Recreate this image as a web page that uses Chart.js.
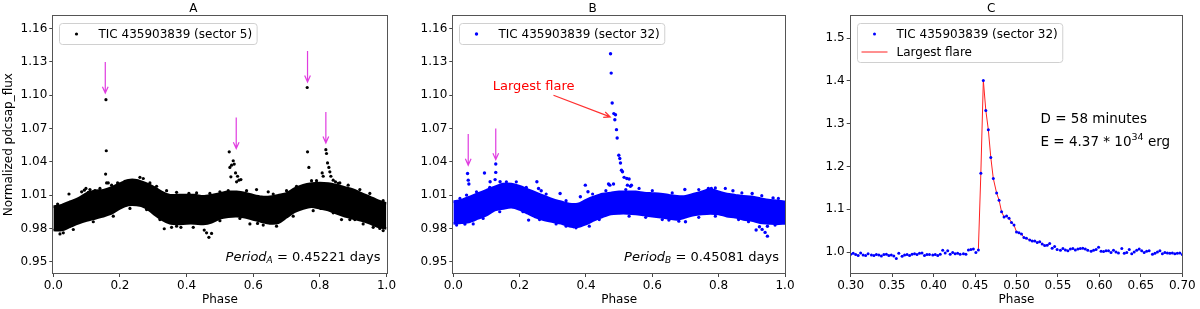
<!DOCTYPE html>
<html>
<head>
<meta charset="utf-8">
<script src="https://cdn.jsdelivr.net/npm/chart.js@4.4.0/dist/chart.umd.min.js"></script>
<style>
html, body { margin: 0; padding: 0; background: #fff; }
#wrap { position: relative; width: 1200px; height: 309px; }
#wrap canvas { position: absolute; top: 0; }
</style>
</head>
<body>
<div id="wrap">
  <canvas id="cA" width="400" height="309" style="left:0px"></canvas>
  <canvas id="cB" width="400" height="309" style="left:400px"></canvas>
  <canvas id="cC" width="400" height="309" style="left:800px"></canvas>
</div>
<script>
// ---- data ----
var xTicksAB = [0, 0.2, 0.4, 0.6, 0.8, 1.0];
var yTicksAB = [0.95, 0.98, 1.01, 1.04, 1.07, 1.10, 1.13, 1.16];
var xTicksC = [0.30, 0.35, 0.40, 0.45, 0.50, 0.55, 0.60, 0.65, 0.70];
var yTicksC = [1.0, 1.1, 1.2, 1.3, 1.4, 1.5];

// upper / lower edge of the dense point cloud, sampled every 0.025 in phase
var envPhase = [0, 0.025, 0.05, 0.075, 0.1, 0.125, 0.15, 0.175, 0.2, 0.225, 0.25, 0.275, 0.3, 0.325, 0.35,
  0.375, 0.4, 0.425, 0.45, 0.475, 0.5, 0.525, 0.55, 0.575, 0.6, 0.625, 0.65, 0.675, 0.7, 0.725, 0.75,
  0.775, 0.8, 0.825, 0.85, 0.875, 0.9, 0.925, 0.95, 0.975, 1.0];
var bandTopA = [0.9995, 1.001, 1.004, 1.007, 1.0115, 1.014, 1.0145, 1.017, 1.0205, 1.0235, 1.0235, 1.021,
  1.0175, 1.013, 1.01, 1.01, 1.01, 1.01, 1.009, 1.01, 1.0115, 1.013, 1.013, 1.012, 1.01, 1.0085, 1.0085,
  1.01, 1.0115, 1.016, 1.019, 1.0205, 1.021, 1.0205, 1.019, 1.017, 1.015, 1.0115, 1.0085, 1.005, 1.0025];
var bandLowA = [0.9785, 0.9785, 0.9815, 0.9845, 0.987, 0.989, 0.991, 0.9935, 0.998, 1.001, 1.001, 0.999,
  0.9935, 0.988, 0.9845, 0.984, 0.9845, 0.9845, 0.984, 0.9855, 0.989, 0.9905, 0.991, 0.99, 0.988, 0.986,
  0.9845, 0.985, 0.99, 0.995, 0.998, 0.9995, 0.998, 0.9965, 0.9935, 0.991, 0.989, 0.987, 0.9845, 0.9815, 0.98];
var bandTopB = [1.004, 1.0055, 1.0085, 1.0115, 1.0145, 1.0175, 1.02, 1.02, 1.018, 1.015, 1.012, 1.009,
  1.006, 1.004, 1.002, 1.002, 1.0055, 1.0085, 1.011, 1.012, 1.013, 1.013, 1.013, 1.012, 1.0115, 1.011,
  1.01, 1.009, 1.009, 1.011, 1.013, 1.015, 1.013, 1.011, 1.01, 1.009, 1.0085, 1.007, 1.0055, 1.005, 1.004];
var bandLowB = [0.9845, 0.985, 0.986, 0.989, 0.992, 0.9965, 0.998, 0.999, 0.997, 0.9935, 0.99, 0.9875,
  0.986, 0.9845, 0.982, 0.9815, 0.984, 0.9875, 0.9905, 0.993, 0.9935, 0.9935, 0.993, 0.992, 0.991, 0.99,
  0.989, 0.988, 0.99, 0.992, 0.993, 0.9935, 0.993, 0.991, 0.99, 0.988, 0.987, 0.985, 0.9845, 0.984, 0.9845];

// single points standing out of the cloud: [phase, flux]
var dotsA = [[0.158, 1.096], [0.159, 1.050], [0.157, 1.029], [0.160, 1.021],
  [0.528, 1.049], [0.540, 1.041], [0.543, 1.038], [0.535, 1.037], [0.530, 1.035], [0.533, 1.0265],
  [0.547, 1.030], [0.553, 1.027], [0.557, 1.0235], [0.563, 1.024], [0.550, 1.022], [0.525, 1.014],
  [0.762, 1.107], [0.763, 1.049], [0.767, 1.035], [0.775, 1.023],
  [0.818, 1.051], [0.820, 1.0475], [0.823, 1.039], [0.827, 1.035], [0.830, 1.031], [0.833, 1.027],
  [0.810, 1.027], [0.807, 1.030], [0.840, 1.0235], [0.847, 1.022], [0.855, 1.0205], [0.885, 1.019],
  [0.047, 1.011], [0.013, 1.002], [0.093, 1.0145], [0.110, 1.015], [0.125, 1.014], [0.165, 1.021],
  [0.193, 1.021], [0.290, 1.021], [0.407, 1.0115], [0.610, 1.015], [0.645, 1.013],
  [0.333, 0.9797], [0.355, 0.981], [0.383, 0.981], [0.453, 0.9785], [0.467, 0.972], [0.460, 0.976],
  [0.475, 0.9755], [0.020, 0.975], [0.865, 0.988], [0.905, 0.988], [0.613, 0.9845], [0.590, 0.984], [0.980, 0.980]];
// ragged rim of the cloud in panel A
var rimA = [[0.085, 1.013], [0.098, 1.016], [0.105, 1.0125], [0.14, 1.016], [0.175, 1.019], [0.215, 1.0225],
  [0.26, 1.026], [0.27, 1.025], [0.31, 1.018], [0.34, 1.014], [0.37, 1.0125], [0.43, 1.012], [0.47, 1.0115],
  [0.5, 1.013], [0.58, 1.014], [0.66, 1.011], [0.7, 1.014], [0.73, 1.018], [0.79, 1.023], [0.86, 1.021],
  [0.92, 1.015], [0.95, 1.0115], [0.99, 1.005],
  [0.03, 0.976], [0.06, 0.979], [0.12, 0.986], [0.18, 0.991], [0.23, 0.998], [0.28, 0.997], [0.32, 0.988],
  [0.37, 0.982], [0.42, 0.981], [0.5, 0.987], [0.56, 0.989], [0.63, 0.983], [0.67, 0.982], [0.72, 0.991],
  [0.78, 0.996], [0.84, 0.994], [0.89, 0.988], [0.93, 0.984], [0.96, 0.981], [0.99, 0.978]];
var dotsB = [[0.474, 1.1375], [0.476, 1.120], [0.479, 1.093], [0.484, 1.0835], [0.489, 1.0825],
  [0.487, 1.078], [0.492, 1.069], [0.494, 1.0615], [0.499, 1.046], [0.502, 1.043], [0.504, 1.039],
  [0.507, 1.0325], [0.510, 1.031], [0.515, 1.026], [0.523, 1.025], [0.530, 1.0245], [0.525, 1.019],
  [0.534, 1.018], [0.472, 1.019], [0.468, 1.020], [0.483, 1.020], [0.537, 1.019],
  [0.043, 1.0295], [0.045, 1.0235], [0.047, 1.020], [0.040, 1.010], [0.094, 1.030], [0.128, 1.038],
  [0.128, 1.0305], [0.126, 1.024], [0.111, 1.022], [0.141, 1.022],
  [0.252, 1.022], [0.257, 1.016], [0.265, 1.014], [0.322, 1.0115], [0.398, 1.019], [0.406, 1.013],
  [0.383, 1.0085], [0.698, 1.015], [0.769, 1.016], [0.778, 1.016], [0.843, 1.014], [0.901, 1.0115], [0.964, 1.0075],
  [0.227, 0.9875], [0.363, 0.9815], [0.035, 0.984], [0.650, 0.9875], [0.700, 0.986], [0.931, 0.9791],
  [0.940, 0.9764], [0.947, 0.973], [0.923, 0.9815], [0.913, 0.9785], [0.947, 0.982]];
// ragged rim of the cloud in panel B
var rimB = [[0.02, 1.007], [0.07, 1.013], [0.11, 1.017], [0.16, 1.022], [0.19, 1.022], [0.22, 1.017],
  [0.28, 1.011], [0.34, 1.005], [0.42, 1.011], [0.46, 1.014], [0.52, 1.015], [0.56, 1.016], [0.6, 1.014],
  [0.66, 1.012], [0.74, 1.015], [0.79, 1.0165], [0.82, 1.016], [0.87, 1.012], [0.93, 1.0095], [0.98, 1.007],
  [0.01, 0.983], [0.06, 0.984], [0.09, 0.989], [0.14, 0.995], [0.21, 0.995], [0.26, 0.988], [0.31, 0.984],
  [0.34, 0.982], [0.37, 0.9805], [0.41, 0.982], [0.44, 0.988], [0.53, 0.991], [0.58, 0.99], [0.63, 0.988],
  [0.68, 0.9865], [0.74, 0.99], [0.79, 0.991], [0.86, 0.988], [0.89, 0.986], [0.97, 0.983]];

// panel C: the largest flare, phase and flux
var cPhaseLeft = [0.300, 0.303, 0.306, 0.309, 0.312, 0.315, 0.318, 0.321, 0.325, 0.328, 0.331, 0.334, 0.337,
  0.340, 0.343, 0.346, 0.349, 0.352, 0.355, 0.358, 0.362, 0.365, 0.368, 0.371, 0.374, 0.377, 0.380, 0.383,
  0.386, 0.389, 0.392, 0.395, 0.399, 0.402, 0.405, 0.408, 0.411, 0.414, 0.417, 0.420, 0.423, 0.426, 0.429,
  0.432, 0.436, 0.439, 0.442, 0.445, 0.448, 0.451];
var cFluxLeft = [0.995, 0.997, 0.994, 0.992, 0.998, 0.993, 0.992, 0.996, 0.993, 0.992, 0.994, 0.993, 0.991,
  0.994, 0.995, 0.992, 0.993, 0.991, 0.985, 0.997, 0.990, 0.993, 0.994, 0.992, 0.995, 0.996, 0.994, 0.997,
  0.998, 0.992, 0.994, 0.994, 0.993, 0.994, 0.992, 0.995, 1.004, 0.998, 1.003, 0.995, 0.999, 0.996, 0.997,
  0.995, 0.996, 0.995, 1.005, 1.006, 1.007, 0.999];
var flarePhase = [0.454, 0.457, 0.460, 0.463, 0.466, 0.469, 0.472, 0.476, 0.479, 0.482, 0.485, 0.488, 0.491,
  0.494, 0.497, 0.500, 0.503, 0.506, 0.509, 0.512, 0.516, 0.519, 0.522, 0.525, 0.528, 0.531, 0.534, 0.537, 0.540];
var flareFlux = [1.005, 1.184, 1.401, 1.331, 1.286, 1.221, 1.172, 1.138, 1.121, 1.094, 1.082, 1.084, 1.079,
  1.069, 1.063, 1.047, 1.045, 1.042, 1.034, 1.032, 1.028, 1.026, 1.0257, 1.022, 1.024, 1.019, 1.015, 1.016, 1.020];
var cPhaseRight = [0.543, 0.546, 0.549, 0.553, 0.556, 0.559, 0.562, 0.565, 0.568, 0.571, 0.574, 0.577, 0.580,
  0.583, 0.586, 0.590, 0.593, 0.596, 0.599, 0.602, 0.605, 0.608, 0.611, 0.614, 0.617, 0.620, 0.623, 0.627,
  0.630, 0.633, 0.636, 0.639, 0.642, 0.645, 0.648, 0.651, 0.654, 0.657, 0.660, 0.664, 0.667, 0.670, 0.673,
  0.676, 0.679, 0.682, 0.685, 0.688, 0.691, 0.694, 0.697, 0.700];
var cFluxRight = [1.009, 1.013, 1.006, 1.004, 1.008, 1.005, 1.003, 1.007, 1.008, 1.005, 1.007, 1.008, 1.009,
  1.007, 1.004, 1.002, 1.004, 1.006, 1.011, 1.002, 1.001, 1.003, 1.003, 0.999, 1.004, 1.000, 0.998, 1.008,
  0.997, 0.999, 1.006, 0.996, 1.000, 1.004, 1.007, 1.003, 0.999, 1.002, 1.003, 0.995, 0.997, 1.000, 1.003,
  0.996, 0.999, 0.998, 0.997, 0.998, 0.996, 0.997, 0.998, 0.994];

// ---- drawing ----
var FONT = "'DejaVu Sans', 'Liberation Sans', sans-serif";
var MAGENTA = '#e03ce0';

function pts(xs, ys) {
  return xs.map(function (x, i) { return { x: x, y: ys[i] }; });
}
function pairs(list) {
  return list.map(function (p) { return { x: p[0], y: p[1] }; });
}
function fontStr(r) {
  return (r.italic ? 'italic ' : '') + r.size + 'px ' + FONT;
}

var panelPlugin = {
  id: 'panel',
  afterDatasetsDraw: function (chart, args, opts) {
    var ctx = chart.ctx, a = chart.chartArea, xs = chart.scales.x, ys = chart.scales.y;
    ctx.save();

    (opts.arrows || []).forEach(function (ar) {
      var x1 = xs.getPixelForValue(ar.from[0]), y1 = ys.getPixelForValue(ar.from[1]);
      var x2 = xs.getPixelForValue(ar.to[0]), y2 = ys.getPixelForValue(ar.to[1]);
      var ang = Math.atan2(y2 - y1, x2 - x1), hl = 7, hw = 0.42;
      ctx.strokeStyle = ar.color;
      ctx.lineWidth = 1.2;
      ctx.beginPath();
      ctx.moveTo(x1, y1);
      ctx.lineTo(x2, y2);
      ctx.moveTo(x2 - hl * Math.cos(ang - hw), y2 - hl * Math.sin(ang - hw));
      ctx.lineTo(x2, y2);
      ctx.lineTo(x2 - hl * Math.cos(ang + hw), y2 - hl * Math.sin(ang + hw));
      ctx.stroke();
    });

    (opts.notes || []).forEach(function (n) {
      var w = 0;
      n.runs.forEach(function (r) { ctx.font = fontStr(r); r.w = ctx.measureText(r.text).width; w += r.w; });
      var x = xs.getPixelForValue(n.at[0]), y = ys.getPixelForValue(n.at[1]);
      if (n.align === 'right') x -= w;
      else if (n.align === 'center') x -= w / 2;
      ctx.textBaseline = 'middle';
      ctx.textAlign = 'left';
      ctx.fillStyle = n.color || '#000';
      n.runs.forEach(function (r) {
        ctx.font = fontStr(r);
        ctx.fillText(r.text, x, y + (r.dy || 0));
        x += r.w;
      });
    });

    // axes box
    ctx.strokeStyle = '#555';
    ctx.lineWidth = 1;
    ctx.strokeRect(Math.round(a.left) - 0.5, Math.round(a.top) - 0.5,
      Math.round(a.right) - Math.round(a.left) + 1, Math.round(a.bottom) - Math.round(a.top) + 1);

    // legend box in the upper left corner
    var items = chart.data.datasets.filter(function (d) { return d.legendKind; });
    if (items.length) {
      ctx.font = '12px ' + FONT;
      var tw = 0;
      items.forEach(function (d) { tw = Math.max(tw, ctx.measureText(d.label).width); });
      var bx = Math.round(a.left) + 6.5, by = Math.round(a.top) + 7.5;
      var bw = 39 + tw + 5, bh = 21 + 18 * (items.length - 1);
      ctx.beginPath();
      ctx.roundRect(bx, by, bw, bh, 3);
      ctx.fillStyle = 'rgba(255,255,255,0.8)';
      ctx.fill();
      ctx.strokeStyle = '#d0d0d0';
      ctx.stroke();
      items.forEach(function (d, i) {
        var cy = by + 10.5 + 18 * i;
        if (d.legendKind === 'dot') {
          ctx.fillStyle = d.backgroundColor;
          ctx.beginPath();
          ctx.arc(bx + 17, cy, d.pointRadius, 0, Math.PI * 2);
          ctx.fill();
        } else {
          ctx.strokeStyle = d.borderColor;
          ctx.lineWidth = d.borderWidth;
          ctx.beginPath();
          ctx.moveTo(bx + 4, cy);
          ctx.lineTo(bx + 30, cy);
          ctx.stroke();
        }
        ctx.fillStyle = '#000';
        ctx.textAlign = 'left';
        ctx.textBaseline = 'middle';
        ctx.fillText(d.label, bx + 39, cy + 0.5);
      });
    }
    ctx.restore();
  }
};

function tickSetter(list) {
  return function (scale) {
    scale.ticks = list.map(function (v) { return { value: v }; });
  };
}

function makeScales(p) {
  var tickFont = { family: FONT, size: 12 };
  return {
    x: {
      type: 'linear', min: p.xMin, max: p.xMax,
      afterBuildTicks: tickSetter(p.xTicks),
      afterFit: function (s) { s.height = 36; },
      ticks: { font: tickFont, color: '#000', padding: 2, maxRotation: 0, autoSkip: false,
        callback: function (v) { return v.toFixed(p.xDigits); } },
      grid: { drawOnChartArea: false, tickLength: 4, color: '#444' },
      border: { display: false },
      title: { display: true, text: 'Phase', color: '#000', font: tickFont, padding: { top: 0, bottom: 2 } }
    },
    y: {
      type: 'linear', min: p.yMin, max: p.yMax,
      afterBuildTicks: tickSetter(p.yTicks),
      afterFit: function (s) { s.width = p.yWidth; },
      ticks: { font: tickFont, color: '#000', padding: 2, autoSkip: false,
        callback: function (v) { return v.toFixed(p.yDigits); } },
      grid: { drawOnChartArea: false, tickLength: 4, color: '#444' },
      border: { display: false },
      title: { display: !!p.yTitle, text: p.yTitle || '', color: '#000', font: tickFont, padding: { top: 2, bottom: 0 } }
    }
  };
}

function makeChart(id, title, padRight, datasets, scales, panel) {
  return new Chart(document.getElementById(id), {
    type: 'scatter',
    data: { datasets: datasets },
    options: {
      responsive: false,
      animation: false,
      events: [],
      layout: { padding: { left: 0, right: padRight, top: 0, bottom: 0 } },
      scales: scales,
      plugins: {
        legend: { display: false },
        tooltip: { enabled: false },
        title: { display: true, text: title, color: '#000', font: { family: FONT, size: 12, weight: 'normal' },
          padding: { top: 2, bottom: 0 } },
        panel: panel
      }
    },
    plugins: [panelPlugin]
  });
}

function bandSets(top, low, rim, color) {
  return [
    { type: 'line', label: 'upper', data: pts(envPhase, top), borderColor: color, backgroundColor: color,
      borderWidth: 2.5, pointRadius: 0, tension: 0.25, fill: '+1' },
    { type: 'line', label: 'lower', data: pts(envPhase, low), borderColor: color, backgroundColor: color,
      borderWidth: 2.5, pointRadius: 0, tension: 0.25, fill: false },
    { label: 'rim', data: pairs(rim), backgroundColor: color, borderWidth: 0, pointRadius: 1.6 }
  ];
}

function periodNote(letter, value) {
  return { at: [0.982, 0.954], align: 'right', runs: [
    { text: 'Period', italic: true, size: 13 },
    { text: letter, italic: true, size: 9, dy: 3 },
    { text: ' = ' + value + ' days', size: 13 }
  ] };
}

makeChart('cA', 'A', 13.5,
  bandSets(bandTopA, bandLowA, rimA, '#000').concat([
    { label: 'TIC 435903839 (sector 5)', data: pairs(dotsA), backgroundColor: '#000', borderWidth: 0,
      pointRadius: 1.6, legendKind: 'dot' }
  ]),
  makeScales({ xMin: 0, xMax: 1, xTicks: xTicksAB, xDigits: 1, yMin: 0.9398, yMax: 1.1711,
    yTicks: yTicksAB, yDigits: 2, yWidth: 53.3, yTitle: 'Normalized pdcsap_flux' }),
  {
    arrows: [
      { from: [0.156, 1.130], to: [0.156, 1.102], color: MAGENTA },
      { from: [0.549, 1.080], to: [0.549, 1.052], color: MAGENTA },
      { from: [0.763, 1.140], to: [0.763, 1.112], color: MAGENTA },
      { from: [0.818, 1.085], to: [0.818, 1.057], color: MAGENTA }
    ],
    notes: [periodNote('A', '0.45221')]
  });

makeChart('cB', 'B', 15,
  bandSets(bandTopB, bandLowB, rimB, '#0000ff').concat([
    { label: 'TIC 435903839 (sector 32)', data: pairs(dotsB), backgroundColor: '#0000ff', borderWidth: 0,
      pointRadius: 1.7, legendKind: 'dot' }
  ]),
  makeScales({ xMin: 0, xMax: 1, xTicks: xTicksAB, xDigits: 1, yMin: 0.9398, yMax: 1.1711,
    yTicks: yTicksAB, yDigits: 2, yWidth: 53.3 }),
  {
    arrows: [
      { from: [0.045, 1.065], to: [0.045, 1.037], color: MAGENTA },
      { from: [0.128, 1.070], to: [0.128, 1.042], color: MAGENTA },
      { from: [0.302, 1.100], to: [0.473, 1.0805], color: '#ff3030' }
    ],
    notes: [
      periodNote('B', '0.45081'),
      { at: [0.242, 1.108], align: 'center', color: '#ff0000', runs: [{ text: 'Largest flare', size: 13 }] }
    ]
  });

makeChart('cC', 'C', 17.7, [
    { label: 'TIC 435903839 (sector 32)',
      data: pts(cPhaseLeft.concat(flarePhase, cPhaseRight), cFluxLeft.concat(flareFlux, cFluxRight)),
      backgroundColor: '#0000ff', borderWidth: 0, pointRadius: 1.5, legendKind: 'dot' },
    { type: 'line', label: 'Largest flare', data: pts(flarePhase, flareFlux), borderColor: '#ff2020',
      borderWidth: 1, pointRadius: 0, tension: 0, fill: false, legendKind: 'line' }
  ],
  makeScales({ xMin: 0.3, xMax: 0.7, xTicks: xTicksC, xDigits: 2, yMin: 0.951, yMax: 1.5506,
    yTicks: yTicksC, yDigits: 1, yWidth: 50.7 }),
  {
    notes: [
      { at: [0.529, 1.309], align: 'left', runs: [{ text: 'D = 58 minutes', size: 13.5 }] },
      { at: [0.529, 1.257], align: 'left', runs: [
        { text: 'E = 4.37 * 10', size: 13.5 },
        { text: '34', size: 9.5, dy: -5 },
        { text: ' erg', size: 13.5 }
      ] }
    ]
  });
</script>
</body>
</html>
